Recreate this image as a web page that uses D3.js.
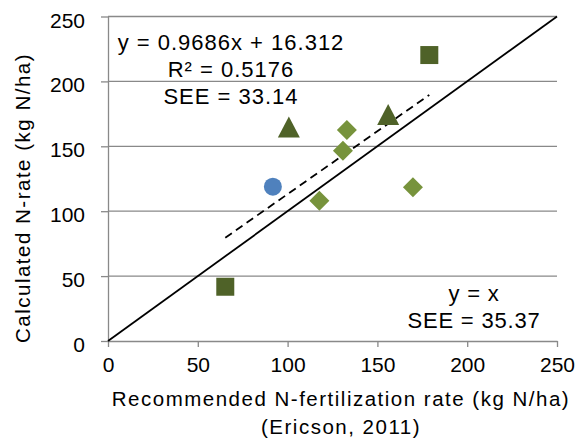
<!DOCTYPE html>
<html>
<head>
<meta charset="utf-8">
<script src="https://cdn.jsdelivr.net/npm/d3@7"></script>
<style>
  html, body { margin: 0; padding: 0; background: #fff; }
  svg { display: block; font-family: Arial, "Liberation Sans", sans-serif; }
</style>
</head>
<body>
<svg id="chart" width="579" height="443"></svg>
<script>
// ---- data ----
const squares   = [[65.3, 41.8], [178.9, 220.3]];
const triangles = [[100.7, 164.9], [156, 174.5]];
const circles   = [[91.8, 118.9]];
const diamonds  = [[133, 162.6], [130.8, 146.6], [117.7, 108.1], [169.8, 118.4]];
const xTicks = [0, 50, 100, 150, 200, 250];
const yTicks = [0, 50, 100, 150, 200, 250];
const slope = 0.9686, intercept = 16.312;
const trendLabels = ["y = 0.9686x + 16.312", "R² = 0.5176", "SEE = 33.14"];
const oneToOneLabels = ["y = x", "SEE = 35.37"];
const xTitle = ["Recommended N-fertilization rate (kg N/ha)", "(Ericson, 2011)"];
const yTitle = "Calculated N-rate (kg N/ha)";

// ---- layout ----
const svg = d3.select("#chart");
const x = d3.scaleLinear().domain([0, 250]).range([108, 557]);
const y = d3.scaleLinear().domain([0, 250]).range([341, 16.5]);
const grey = "#898989";

// gridlines
svg.append("g").selectAll("line").data(yTicks.filter(d => d > 0)).join("line")
  .attr("x1", x(0)).attr("x2", x(250))
  .attr("y1", d => y(d)).attr("y2", d => y(d))
  .attr("stroke", grey).attr("stroke-width", 1.3);

// axes
const yAxis = svg.append("g").attr("transform", `translate(${x(0)},0)`)
  .call(d3.axisLeft(y).tickValues(yTicks).tickSize(7).tickPadding(16).tickSizeOuter(0));
const xAxis = svg.append("g").attr("transform", `translate(0,${y(0)})`)
  .call(d3.axisBottom(x).tickValues(xTicks).tickSize(6).tickPadding(8).tickSizeOuter(0));
[yAxis, xAxis].forEach(g => {
  g.select(".domain").attr("stroke", grey).attr("stroke-width", 1.3);
  g.selectAll(".tick line").attr("stroke", grey).attr("stroke-width", 1.3);
  g.selectAll(".tick text").attr("fill", "#000").style("font-size", "21px")
    .style("font-family", "Arial, 'Liberation Sans', sans-serif");
});
yAxis.selectAll(".tick text").attr("dy", "0.5em");
xAxis.selectAll(".tick text").attr("dy", "0.8em");

// 1:1 line
svg.append("line")
  .attr("x1", x(0)).attr("y1", y(0)).attr("x2", x(250)).attr("y2", y(250))
  .attr("stroke", "#000").attr("stroke-width", 1.8);

// trendline over data range
const allX = [...squares, ...triangles, ...circles, ...diamonds].map(d => d[0]);
const xmin = d3.min(allX), xmax = d3.max(allX);
svg.append("line")
  .attr("x1", x(xmin)).attr("y1", y(slope * xmin + intercept))
  .attr("x2", x(xmax)).attr("y2", y(slope * xmax + intercept))
  .attr("stroke", "#000").attr("stroke-width", 1.8).attr("stroke-dasharray", "8,5");

// markers
const sym = (type, size) => d3.symbol().type(type).size(size);
svg.append("g").selectAll("path").data(squares).join("path")
  .attr("transform", d => `translate(${x(d[0])},${y(d[1])})`)
  .attr("d", sym(d3.symbolSquare, 324)()).attr("fill", "#4F6228");
svg.append("g").selectAll("path").data(triangles).join("path")
  .attr("transform", d => `translate(${x(d[0])},${y(d[1])})`)
  .attr("d", () => "M0,-10.5L11,10.5L-11,10.5Z").attr("fill", "#4F6228");
svg.append("g").selectAll("path").data(diamonds).join("path")
  .attr("transform", d => `translate(${x(d[0])},${y(d[1])})`)
  .attr("d", () => "M0,-10L10,0L0,10L-10,0Z").attr("fill", "#77933C");
svg.append("g").selectAll("circle").data(circles).join("circle")
  .attr("cx", d => x(d[0])).attr("cy", d => y(d[1])).attr("r", 9)
  .attr("fill", "#4F81BD");

// trend annotation
svg.append("g").selectAll("text").data(trendLabels).join("text")
  .attr("x", 231).attr("y", (d, i) => 50 + i * 27)
  .attr("text-anchor", "middle").style("font-size", "22px").style("letter-spacing", "1px")
  .text(d => d);

svg.append("g").selectAll("text").data(oneToOneLabels).join("text")
  .attr("x", 474).attr("y", (d, i) => 301 + i * 27)
  .attr("text-anchor", "middle").style("font-size", "22px").style("letter-spacing", "0.8px")
  .text(d => d);

// axis titles
svg.append("g").selectAll("text").data(xTitle).join("text")
  .attr("x", 341).attr("y", (d, i) => 406 + i * 28)
  .attr("text-anchor", "middle").style("font-size", "20.5px").style("letter-spacing", "1.5px")
  .text(d => d);

svg.append("text")
  .attr("transform", "translate(30,198) rotate(-90)")
  .attr("text-anchor", "middle").style("font-size", "20.5px").style("letter-spacing", "1.5px")
  .text(yTitle);
</script>
</body>
</html>
